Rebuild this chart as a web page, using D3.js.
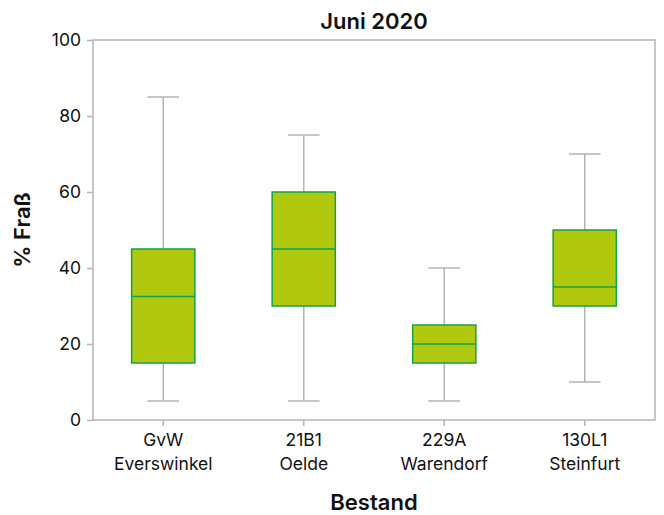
<!DOCTYPE html>
<html>
<head>
<meta charset="utf-8">
<script src="https://cdn.jsdelivr.net/npm/d3@7"></script>
<style>
  body { margin: 0; background: #fff; }
  text { font-family: Inter, "Noto Sans", sans-serif; }
</style>
</head>
<body>
<svg id="chart" width="664" height="515"></svg>
<script>
// Bestand labels (two lines each)
const codes = ['GvW', '21B1', '229A', '130L1'];
const places = ['Everswinkel', 'Oelde', 'Warendorf', 'Steinfurt'];

// box plot statistics
const mins = [5, 5, 5, 10];
const q1s = [15, 30, 15, 30];
const medians = [32.5, 45, 20, 35];
const q3s = [45, 60, 25, 50];
const maxs = [85, 75, 40, 70];

const yTicks = [0, 20, 40, 60, 80, 100];

const margin = { top: 40, right: 9, bottom: 95, left: 93 };
const width = 664 - margin.left - margin.right;
const height = 515 - margin.top - margin.bottom;

const svg = d3.select('#chart');
const g = svg.append('g')
  .attr('transform', `translate(${margin.left},${margin.top})`);

const x = d3.scaleBand()
  .domain(codes)
  .range([0, width])
  .padding(0);

const y = d3.scaleLinear()
  .domain([0, 100])
  .range([height, 0]);

const boxes = codes.map((c, i) => ({
  code: c, place: places[i],
  min: mins[i], q1: q1s[i], med: medians[i], q3: q3s[i], max: maxs[i]
}));

const gray = '#b4b4b4';
const boxW = x.bandwidth() * 0.45;
const capW = boxW / 2;

// frame
g.append('rect')
  .attr('x', 0).attr('y', 0)
  .attr('width', width).attr('height', height)
  .attr('fill', 'none')
  .attr('stroke', gray)
  .attr('stroke-width', 1.5);

// y axis
const yAxis = g.append('g')
  .call(d3.axisLeft(y).tickValues(yTicks).tickSize(6).tickPadding(6));
yAxis.select('.domain').remove();
yAxis.selectAll('line').attr('stroke', gray).attr('stroke-width', 1.5);
yAxis.selectAll('text').attr('font-size', '17.5px').attr('fill', '#111');

// x axis
const xAxis = g.append('g')
  .attr('transform', `translate(0,${height})`)
  .call(d3.axisBottom(x).tickSize(6).tickFormat(''));
xAxis.select('.domain').remove();
xAxis.selectAll('line').attr('stroke', gray).attr('stroke-width', 1.5);
xAxis.selectAll('.tick').each(function (d, i) {
  const t = d3.select(this).append('text')
    .attr('fill', '#111')
    .attr('font-size', '17.5px')
    .attr('text-anchor', 'middle')
    .attr('y', 26);
  t.append('tspan').attr('x', 0).attr('dy', 0).text(d);
  t.append('tspan').attr('x', 0).attr('dy', '1.35em').text(places[i]);
});

// boxes
const box = g.selectAll('.box')
  .data(boxes)
  .enter()
  .append('g')
  .attr('class', 'box')
  .attr('transform', d => `translate(${x(d.code) + x.bandwidth() / 2},0)`);

// whiskers
box.append('line')
  .attr('x1', 0).attr('x2', 0)
  .attr('y1', d => y(d.max)).attr('y2', d => y(d.q3))
  .attr('stroke', gray).attr('stroke-width', 1.5);
box.append('line')
  .attr('x1', 0).attr('x2', 0)
  .attr('y1', d => y(d.q1)).attr('y2', d => y(d.min))
  .attr('stroke', gray).attr('stroke-width', 1.5);
box.append('line')
  .attr('x1', -capW / 2).attr('x2', capW / 2)
  .attr('y1', d => y(d.max)).attr('y2', d => y(d.max))
  .attr('stroke', gray).attr('stroke-width', 1.5);
box.append('line')
  .attr('x1', -capW / 2).attr('x2', capW / 2)
  .attr('y1', d => y(d.min)).attr('y2', d => y(d.min))
  .attr('stroke', gray).attr('stroke-width', 1.5);

box.append('rect')
  .attr('x', -boxW / 2)
  .attr('width', boxW)
  .attr('y', d => y(d.q3))
  .attr('height', d => y(d.q1) - y(d.q3))
  .attr('fill', '#b0c90f')
  .attr('stroke', '#16a046')
  .attr('stroke-width', 1.5);

box.append('line')
  .attr('x1', -boxW / 2).attr('x2', boxW / 2)
  .attr('y1', d => y(d.med)).attr('y2', d => y(d.med))
  .attr('stroke', '#16a046').attr('stroke-width', 1.5);

// title
svg.append('text')
  .attr('x', margin.left + width / 2)
  .attr('y', 29)
  .attr('text-anchor', 'middle')
  .attr('font-size', '22px')
  .attr('font-weight', 600)
  .attr('fill', '#111')
  .text('Juni 2020');

// axis titles
svg.append('text')
  .attr('x', margin.left + width / 2)
  .attr('y', 510)
  .attr('text-anchor', 'middle')
  .attr('font-size', '22px')
  .attr('font-weight', 600)
  .attr('fill', '#111')
  .text('Bestand');

svg.append('text')
  .attr('transform', `translate(30,${margin.top + height / 2}) rotate(-90)`)
  .attr('text-anchor', 'middle')
  .attr('font-size', '22px')
  .attr('font-weight', 600)
  .attr('fill', '#111')
  .text('% Fraß');
</script>
</body>
</html>
